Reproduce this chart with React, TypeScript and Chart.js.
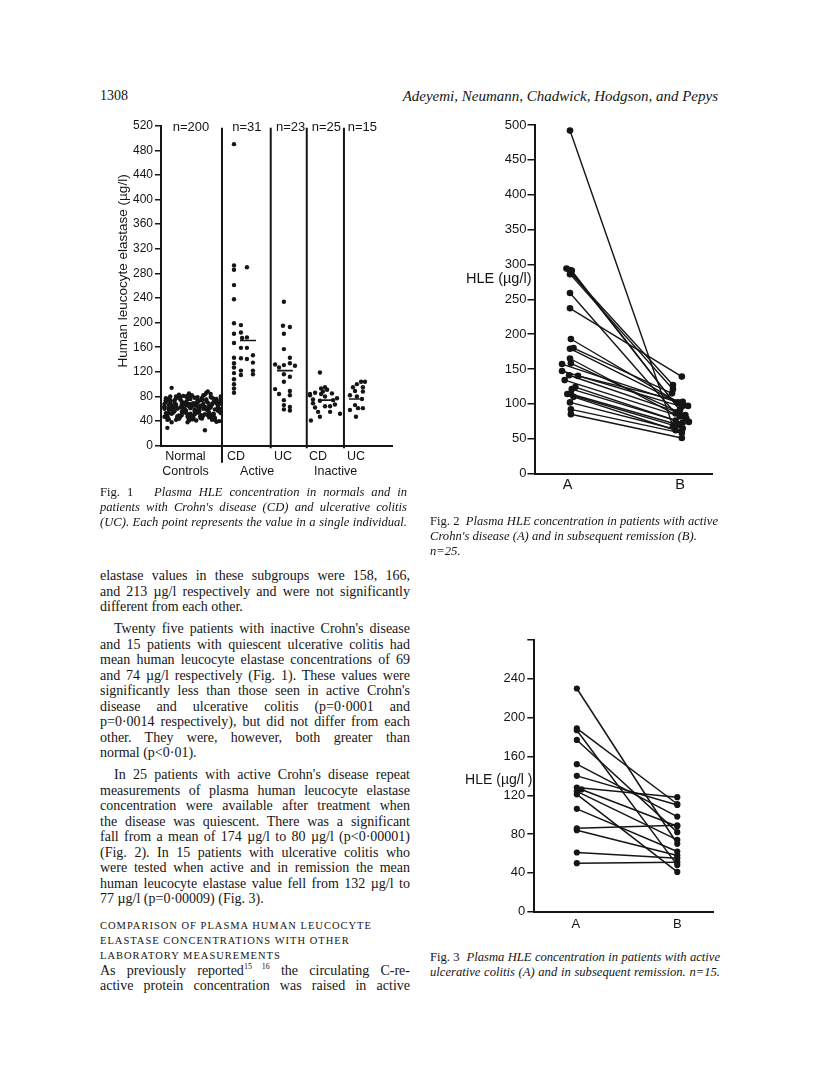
import React, { useEffect, useRef } from "react";
import { Chart, registerables } from "chart.js";

Chart.register(...registerables);

const INK = "#151515";
const SANS = "'Liberation Sans', Arial, sans-serif";
const SERIF = "'Liberation Serif', 'Times New Roman', serif";

// ================= DATA =================
// Fig. 1 — plasma HLE (µg/l) per individual
const fig1CountLabels = ["n=200", "n=31", "n=23", "n=25", "n=15"];
const fig1GroupLabels = ["CD", "UC", "CD", "UC"];
const fig1StateLabels = ["Active", "Inactive"];
const fig1ControlLabels = ["Normal", "Controls"];
const fig1YTitle = "Human leucocyte elastase (\u00b5g/l)";

const normalControls = [
  62, 48, 71, 55, 80, 44, 67, 59, 75, 52,
  69, 41, 58, 77, 63, 50, 84, 46, 72, 56,
  53, 66, 38, 74, 60, 47, 81, 57, 68, 43,
  78, 54, 65, 49, 86, 61, 45, 73, 58, 70,
  47, 76, 59, 64, 42, 83, 55, 68, 51, 79,
  66, 57, 73, 45, 62, 88, 50, 71, 39, 60,
  74, 43, 61, 56, 79, 48, 67, 53, 85, 64,
  51, 70, 46, 82, 59, 65, 42, 76, 57, 68,
  60, 29, 72, 54, 77, 44, 63, 58, 81, 49,
  45, 67, 56, 74, 25, 61, 79, 52, 69, 40,
  71, 58, 94, 63, 48, 75, 55, 66, 43, 82,
  57, 73, 50, 68, 61, 46, 78, 59, 70, 53,
  64, 42, 80, 55, 67, 49, 72, 60, 47, 76,
  49, 69, 62, 44, 83, 57, 65, 51, 74, 58,
  77, 53, 66, 71, 46, 62, 56, 80, 41, 68,
  55, 79, 48, 60, 73, 52, 67, 45, 63, 75,
  68, 46, 74, 57, 64, 81, 50, 69, 38, 61,
  43, 65, 58, 77, 51, 70, 62, 48, 76, 56,
  73, 60, 52, 66, 44, 78, 57, 71, 64, 47,
  59, 72, 45, 62, 75, 54, 68, 42, 66, 80,
];
const cdActive = [490, 293, 286, 290, 261, 238, 199, 196, 182, 184, 167, 175, 176, 159, 159, 143, 142, 141, 147, 134, 135, 127, 122, 115, 122, 116, 118, 108, 100, 93, 86];
const ucActive = [234, 195, 193, 182, 157, 143, 132, 131, 134, 130, 127, 116, 112, 104, 92, 84, 89, 82, 74, 66, 63, 57, 59];
const cdInactive = [119, 95, 93, 91, 88, 86, 85, 84, 84, 82, 80, 77, 75, 74, 73, 69, 67, 64, 64, 62, 55, 55, 52, 47, 41];
const ucInactive = [104, 104, 100, 95, 95, 89, 88, 82, 80, 76, 66, 61, 61, 58, 47];
const fig1Medians = [171, 122, 74, 76];

// Fig. 2 — active Crohn's disease (A) and remission (B), n=25
const fig2A = [492, 294, 292, 291, 286, 259, 237, 193, 180, 179, 165, 158, 157, 147, 141, 140, 134, 124, 121, 114, 114, 110, 102, 92, 85];
const fig2B = [68, 127, 91, 79, 121, 86, 139, 102, 115, 98, 74, 84, 97, 96, 88, 103, 82, 76, 73, 65, 70, 62, 61, 58, 51];

// Fig. 3 — active ulcerative colitis (A) and remission (B), n=15
const fig3A = [230, 189, 187, 177, 152, 140, 128, 126, 124, 121, 106, 86, 84, 61, 50];
const fig3B = [70, 111, 48, 82, 98, 110, 118, 88, 74, 41, 62, 89, 58, 55, 51];

const pairLabels = ["A", "B"];
const hleLabel2 = "HLE (\u00b5g/l)";
const hleLabel3 = "HLE (\u00b5g/l )";

// ================= LAYOUT (x positions in axis units 0..100, jitter) =================
const L1 = {
  sep: [26.4, 47.5, 63.1, 79.2],
  countX: [13.0, 37.2, 56.1, 71.6, 87.2],
  groupX: [32.5, 52.8, 68.0, 84.4],
  stateX: [41.6, 75.6],
  controlX: 10.6,
  medianSpan: [[34.2, 41.1], [50.2, 57.1], [68.0, 74.5], [81.4, 86.1]],
  cdActiveX: [31.6, 31.6, 31.6, 37.2, 31.6, 31.6, 31.6, 34.6, 31.6, 34.6, 31.6, 35.1, 37.2, 34.6, 37.2, 31.6, 34.6, 37.2, 39.8, 31.6, 39.8, 31.6, 34.6, 34.6, 39.8, 39.8, 31.6, 31.6, 31.6, 31.6, 31.6],
  ucActiveX: [53.2, 52.8, 55.8, 53.2, 53.2, 55.8, 49.4, 53.2, 55.8, 58.0, 51.1, 53.2, 55.8, 53.2, 49.4, 51.1, 55.8, 55.8, 53.2, 53.2, 55.8, 55.8, 53.2],
  cdInactiveX: [68.8, 71.0, 69.3, 71.9, 70.1, 66.7, 74.0, 64.5, 69.3, 64.5, 71.0, 76.2, 65.8, 74.5, 68.8, 65.8, 75.3, 71.0, 73.2, 66.7, 68.0, 73.2, 77.5, 68.8, 64.9],
  ucInactiveX: [86.6, 88.3, 84.8, 83.1, 87.4, 84.0, 87.4, 81.8, 84.8, 87.0, 84.0, 85.3, 87.4, 81.8, 84.4],
};
const L2 = {
  ax: 20, bx: 82, labelX: [18.7, 82],
  aJit: [0, -2, 0, 1, 0, 0, 0, 0.5, 2, 0, 0, 0.5, -4.5, -4.5, -0.5, 4.5, -3, 3, 1, -1.5, 0.5, 2, 0, 0.5, 0.5],
  bJit: [-4, -4, 0, 3.5, -4, -2.5, 1, -1, -4.5, 2, 5, 3, 4.5, 1, -1.5, 1.5, 0, -2.5, 1.5, 1.5, -1, -2.5, 1, 1, 1],
};
const L3 = {
  ax: 23.8, bx: 80, labelX: [23.3, 80],
  aJit: [0, 0, 0, 0, 0, 0, 0, 2.6, 0, 0, 0, 0, 0, 0, 0],
};

// ================= helpers =================
type TextMark = { text: string; x?: number; px?: number; y?: number; dy?: number; size: number; align?: CanvasTextAlign; rotate?: boolean };
type LineMark = { x: number; y1: number; dy2: number; w: number };

function marksPlugin(texts: TextMark[], lines: LineMark[]) {
  return {
    id: "marks",
    afterDraw(chart: any) {
      const ctx = chart.ctx;
      const xs = chart.scales.x;
      const ys = chart.scales.y;
      const area = chart.chartArea;
      ctx.save();
      ctx.strokeStyle = INK;
      ctx.fillStyle = INK;
      for (const l of lines) {
        const x = xs.getPixelForValue(l.x);
        ctx.lineWidth = l.w;
        ctx.beginPath();
        ctx.moveTo(x, ys.getPixelForValue(l.y1));
        ctx.lineTo(x, area.bottom + l.dy2);
        ctx.stroke();
      }
      for (const t of texts) {
        const x = t.x !== undefined ? xs.getPixelForValue(t.x) : area.left + (t.px ?? 0);
        const y = t.y !== undefined ? ys.getPixelForValue(t.y) : area.bottom + (t.dy ?? 0);
        ctx.font = `${t.size}px ${SANS}`;
        ctx.textAlign = t.align ?? "center";
        ctx.textBaseline = "middle";
        if (t.rotate) {
          ctx.save();
          ctx.translate(x, y);
          ctx.rotate(-Math.PI / 2);
          ctx.fillText(t.text, 0, 0);
          ctx.restore();
        } else {
          ctx.fillText(t.text, x, y);
        }
      }
      ctx.restore();
    },
  };
}

function scales(o: { yMax: number; step: number; yWidth: number; xHeight: number; tickLen: number; tickPad: number; font: number; hideTop?: boolean }) {
  return {
    x: {
      type: "linear", min: 0, max: 100,
      ticks: { display: false },
      grid: { display: false },
      border: { display: true, color: INK, width: 2 },
      afterFit: (s: any) => { s.height = o.xHeight; },
    },
    y: {
      type: "linear", min: 0, max: o.yMax,
      ticks: {
        stepSize: o.step, color: INK, padding: o.tickPad,
        font: { family: SANS, size: o.font },
        callback: (v: number) => (o.hideTop && v === o.yMax ? "" : String(v)),
      },
      grid: { display: true, drawOnChartArea: false, drawTicks: true, tickLength: o.tickLen, color: INK, lineWidth: 1.5 },
      border: { display: true, color: INK, width: 2 },
      afterFit: (s: any) => { s.width = o.yWidth; },
    },
  };
}

const dots = (pts: { x: number; y: number }[], r: number) => ({
  type: "scatter", data: pts, pointRadius: r, pointBackgroundColor: INK, pointBorderWidth: 0, borderWidth: 0, showLine: false,
});

function pairDatasets(a: number[], b: number[], ax: number, bx: number, aj: number[], bj: number[], r: number, w: number) {
  return a.map((v, i) => ({
    type: "scatter",
    data: [{ x: ax + (aj[i] ?? 0), y: v }, { x: bx + (bj[i] ?? 0), y: b[i] }],
    showLine: true, borderColor: INK, borderWidth: w,
    pointRadius: r, pointBackgroundColor: INK, pointBorderWidth: 0,
  }));
}

const common = (pad: any) => ({
  responsive: false, animation: false, events: [],
  layout: { padding: pad },
  plugins: { legend: { display: false }, tooltip: { enabled: false } },
});

function buildFig1() {
  const normalPts = normalControls.map((v, i) => ({ x: 1.5 + (i % 20) * 1.25 + (Math.floor(i / 20) % 2) * 0.6, y: v }));
  const grp = (vals: number[], xs: number[]) => vals.map((v, i) => ({ x: xs[i], y: v }));
  const medians = fig1Medians.map((m, i) => ({
    type: "scatter",
    data: [{ x: L1.medianSpan[i][0], y: m }, { x: L1.medianSpan[i][1], y: m }],
    showLine: true, borderColor: INK, borderWidth: 1.6, pointRadius: 0,
  }));
  const texts: TextMark[] = [
    ...fig1CountLabels.map((t, i) => ({ text: t, x: L1.countX[i], y: 517, size: 13 })),
    ...fig1GroupLabels.map((t, i) => ({ text: t, x: L1.groupX[i], dy: 10.5, size: 12.5 })),
    ...fig1StateLabels.map((t, i) => ({ text: t, x: L1.stateX[i], dy: 26, size: 12.5 })),
    { text: fig1ControlLabels[0], x: L1.controlX, dy: 10.5, size: 12.5 },
    { text: fig1ControlLabels[1], x: L1.controlX, dy: 25.5, size: 12.5 },
    { text: fig1YTitle, px: -38, y: 284, size: 13.5, rotate: true },
  ];
  const lines: LineMark[] = L1.sep.map((x, i) => ({ x, y1: 516.6, dy2: i === 0 ? 17 : 2.5, w: 2 }));
  return {
    type: "scatter",
    data: {
      datasets: [
        dots(normalPts, 2.2),
        dots(grp(cdActive, L1.cdActiveX), 2.2),
        dots(grp(ucActive, L1.ucActiveX), 2.2),
        dots(grp(cdInactive, L1.cdInactiveX), 2.2),
        dots(grp(ucInactive, L1.ucInactiveX), 2.2),
        ...medians,
      ],
    },
    options: {
      ...common({ left: 0, top: 15.7, right: 8, bottom: 0 }),
      scales: scales({ yMax: 520, step: 40, yWidth: 71, xHeight: 44.3, tickLen: 6, tickPad: 2, font: 12 }),
    },
    plugins: [marksPlugin(texts, lines)],
  };
}

function buildFig2() {
  const texts: TextMark[] = [
    { text: hleLabel2, px: -3, y: 279, size: 14.5, align: "right" },
    ...pairLabels.map((t, i) => ({ text: t, x: L2.labelX[i], dy: 11.8, size: 14.5 })),
  ];
  return {
    type: "scatter",
    data: { datasets: pairDatasets(fig2A, fig2B, L2.ax, L2.bx, L2.aJit, L2.bJit, 3.3, 1.4) },
    options: {
      ...common({ left: 0, top: 15, right: 8, bottom: 0 }),
      scales: scales({ yMax: 500, step: 50, yWidth: 94.5, xHeight: 26.5, tickLen: 7, tickPad: 1, font: 13 }),
    },
    plugins: [marksPlugin(texts, [])],
  };
}

function buildFig3() {
  const texts: TextMark[] = [
    { text: hleLabel3, px: -2, y: 136, size: 14, align: "right" },
    ...pairLabels.map((t, i) => ({ text: t, x: L3.labelX[i], dy: 12.5, size: 13 })),
  ];
  return {
    type: "scatter",
    data: { datasets: pairDatasets(fig3A, fig3B, L3.ax, L3.bx, L3.aJit, [], 3.1, 1.5) },
    options: {
      ...common({ left: 0, top: 15, right: 7, bottom: 0 }),
      scales: scales({ yMax: 280, step: 40, yWidth: 94.3, xHeight: 23.3, tickLen: 7, tickPad: 2, font: 13, hideTop: true }),
    },
    plugins: [marksPlugin(texts, [])],
  };
}

function ChartBox({ left, top, width, height, build }: { left: number; top: number; width: number; height: number; build: () => any }) {
  const ref = useRef<HTMLCanvasElement>(null);
  useEffect(() => {
    const chart = new Chart(ref.current as HTMLCanvasElement, build());
    return () => chart.destroy();
  }, []);
  return <canvas ref={ref} width={width} height={height} style={{ position: "absolute", left, top, width, height }} />;
}

// ================= page text =================
type TL = { t: React.ReactNode; y: number; j?: boolean; indent?: number };

const bodyLines: TL[] = [
  { t: "elastase values in these subgroups were 158, 166,", y: 576, j: true },
  { t: "and 213 \u00b5g/l respectively and were not significantly", y: 591.5, j: true },
  { t: "different from each other.", y: 607 },
  { t: "Twenty five patients with inactive Crohn's disease", y: 629, j: true, indent: 14 },
  { t: "and 15 patients with quiescent ulcerative colitis had", y: 644.5, j: true },
  { t: "mean human leucocyte elastase concentrations of 69", y: 660, j: true },
  { t: "and 74 \u00b5g/l respectively (Fig. 1). These values were", y: 675.5, j: true },
  { t: "significantly less than those seen in active Crohn's", y: 691, j: true },
  { t: "disease and ulcerative colitis (p=0\u00b70001 and", y: 706.5, j: true },
  { t: "p=0\u00b70014 respectively), but did not differ from each", y: 722, j: true },
  { t: "other. They were, however, both greater than", y: 737.5, j: true },
  { t: "normal (p<0\u00b701).", y: 753 },
  { t: "In 25 patients with active Crohn's disease repeat", y: 775, j: true, indent: 14 },
  { t: "measurements of plasma human leucocyte elastase", y: 790.5, j: true },
  { t: "concentration were available after treatment when", y: 806, j: true },
  { t: "the disease was quiescent. There was a significant", y: 821.5, j: true },
  { t: "fall from a mean of 174 \u00b5g/l to 80 \u00b5g/l (p<0\u00b700001)", y: 837, j: true },
  { t: "(Fig. 2). In 15 patients with ulcerative colitis who", y: 852.5, j: true },
  { t: "were tested when active and in remission the mean", y: 868, j: true },
  { t: "human leucocyte elastase value fell from 132 \u00b5g/l to", y: 883.5, j: true },
  { t: "77 \u00b5g/l (p=0\u00b700009) (Fig. 3).", y: 899 },
  { t: <>As previously reported<sup style={{ fontSize: 8, lineHeight: 0 }}>15 16</sup> the circulating C-re-</>, y: 970.5, j: true },
  { t: "active protein concentration was raised in active", y: 986, j: true },
];

const headingLines: TL[] = [
  { t: "COMPARISON OF PLASMA HUMAN LEUCOCYTE", y: 926 },
  { t: "ELASTASE CONCENTRATIONS WITH OTHER", y: 941 },
  { t: "LABORATORY MEASUREMENTS", y: 956 },
];

const cap1: TL[] = [
  { t: <><span style={{ fontStyle: "normal" }}>Fig. 1</span>{"\u00a0\u00a0 "}Plasma HLE concentration in normals and in</>, y: 492, j: true },
  { t: "patients with Crohn's disease (CD) and ulcerative colitis", y: 507, j: true },
  { t: "(UC). Each point represents the value in a single individual.", y: 522, j: true },
];
const cap2: TL[] = [
  { t: <><span style={{ fontStyle: "normal" }}>Fig. 2</span>{"\u00a0 "}Plasma HLE concentration in patients with active</>, y: 521, j: true },
  { t: "Crohn's disease (A) and in subsequent remission (B).", y: 536 },
  { t: "n=25.", y: 551 },
];
const cap3: TL[] = [
  { t: <><span style={{ fontStyle: "normal" }}>Fig. 3</span>{"\u00a0 "}Plasma HLE concentration in patients with active</>, y: 957, j: true },
  { t: "ulcerative colitis (A) and in subsequent remission. n=15.", y: 971.5, j: true },
];

function TextBlock({ lines, left, width, size, italic, spacing }: { lines: TL[]; left: number; width: number; size: number; italic?: boolean; spacing?: number }) {
  return (
    <>
      {lines.map((l, i) => (
        <div
          key={i}
          style={{
            position: "absolute",
            left: left + (l.indent ?? 0),
            width: width - (l.indent ?? 0),
            top: l.y - 8,
            height: 16,
            lineHeight: "16px",
            fontFamily: SERIF,
            fontSize: size,
            fontStyle: italic ? "italic" : "normal",
            letterSpacing: spacing ?? 0,
            whiteSpace: "nowrap",
            textAlign: l.j ? "justify" : "left",
            textAlignLast: l.j ? "justify" : "left",
            color: INK,
          } as React.CSSProperties}
        >
          {l.t}
        </div>
      ))}
    </>
  );
}

export default function App() {
  return (
    <div style={{ position: "absolute", left: 0, top: 0, width: 816, height: 1074, background: "#fff", overflow: "hidden" }}>
      <div style={{ position: "absolute", left: 100, top: 88, fontFamily: SERIF, fontSize: 14, lineHeight: "16px", color: INK }}>1308</div>
      <div style={{ position: "absolute", left: 380, width: 338, top: 88, textAlign: "right", fontFamily: SERIF, fontStyle: "italic", fontSize: 15, lineHeight: "16px", color: INK }}>
        Adeyemi, Neumann, Chadwick, Hodgson, and Pepys
      </div>

      <ChartBox left={90} top={110} width={310} height={380} build={buildFig1} />
      <ChartBox left={440} top={110} width={280} height={390} build={buildFig2} />
      <ChartBox left={440} top={625} width={280} height={310} build={buildFig3} />

      <TextBlock lines={cap1} left={100} width={307} size={12.6} italic />
      <TextBlock lines={cap2} left={430} width={288} size={12.6} italic />
      <TextBlock lines={cap3} left={430} width={290} size={12.6} italic />
      <TextBlock lines={bodyLines} left={100} width={310} size={14} />
      <TextBlock lines={headingLines} left={100} width={310} size={10.5} spacing={1} />
    </div>
  );
}
